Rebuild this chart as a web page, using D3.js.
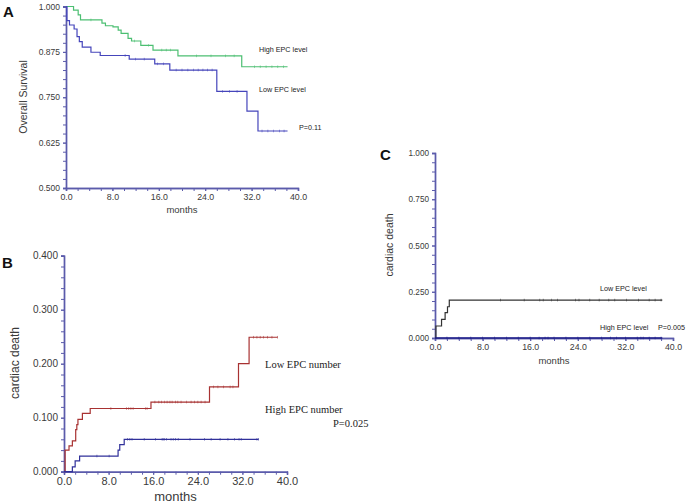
<!DOCTYPE html>
<html><head><meta charset="utf-8">
<script src="https://cdn.jsdelivr.net/npm/d3@7"></script>
<style>body{margin:0;background:#fff}svg{display:block}</style>
</head><body>
<script>
// ---------- DATA ----------
const monthTicks = [0, 8, 16, 24, 32, 40];
const survTicks = [0.5, 0.625, 0.75, 0.875, 1.0];
const bTicks = [0, 0.1, 0.2, 0.3, 0.4];
const cTicks = [0, 0.25, 0.5, 0.75, 1.0];

// Panel A: overall survival
const aHighTimes = [0, 1.3, 2.1, 2.5, 6.2, 6.8, 8.1, 9.0, 9.5, 10.7, 11.3, 12.9, 15.0, 19.3, 30.3, 38.2];
const aHighVals  = [1.0, 0.990, 0.977, 0.963, 0.954, 0.947, 0.944, 0.935, 0.926, 0.912, 0.905, 0.893, 0.880, 0.864, 0.834, 0.834];
const aHighCens  = [4.3, 11.8, 14.2, 16.5, 17.3, 18.0, 22.5, 25.0, 27.5, 29.0, 32.5, 33.5, 34.5, 35.5, 36.5, 37.5];
const aLowTimes  = [0, 0.15, 0.6, 1.4, 1.9, 2.3, 2.8, 4.3, 5.9, 10.9, 15.3, 17.9, 26.0, 31.2, 33.1, 38.2];
const aLowVals   = [1.0, 0.961, 0.949, 0.938, 0.917, 0.903, 0.888, 0.874, 0.865, 0.855, 0.842, 0.825, 0.766, 0.712, 0.657, 0.657];
const aLowCens   = [10.2, 12.0, 13.5, 15.8, 16.8, 19.0, 20.0, 21.0, 22.0, 22.8, 23.6, 24.4, 25.2, 27.0, 28.2, 29.5, 33.8, 34.8, 35.8, 36.8, 37.6];

// Panel B: cardiac death (EPC number)
const bLowTimes  = [0, 0.2, 0.9, 1.5, 2.1, 2.3, 2.5, 3.3, 4.7, 15.6, 26.1, 31.3, 33.2, 38.3];
const bLowVals   = [0, 0.040, 0.048, 0.057, 0.078, 0.087, 0.097, 0.108, 0.117, 0.129, 0.157, 0.200, 0.249, 0.249];
const bLowCens   = [8.4, 11.2, 11.6, 12.0, 12.4, 14.6, 14.9, 16.3, 17.0, 17.5, 18.0, 18.5, 19.0, 19.4, 20.0, 20.4, 21.0, 22.0, 22.8, 23.4, 24.0, 24.6, 25.3, 26.8, 27.6, 28.6, 29.8, 30.3, 34.0, 34.6, 35.2, 35.8, 36.5, 37.3, 38.3];
const bHighTimes = [0, 1.5, 2.0, 2.8, 9.7, 10.0, 10.8, 34.9];
const bHighVals  = [0, 0.009, 0.020, 0.029, 0.040, 0.050, 0.060, 0.060];
const bHighCens  = [5.9, 8.1, 11.4, 11.8, 12.2, 14.4, 16.4, 17.6, 17.8, 18.0, 18.4, 19.2, 19.6, 20.0, 20.5, 22.6, 25.2, 26.4, 28.0, 29.4, 30.6, 31.4, 31.8, 34.6, 34.9];

// Panel C: cardiac death (EPC level)
const cLowTimes  = [0, 0.15, 1.1, 1.7, 2.1, 2.4, 38.2];
const cLowVals   = [0, 0.065, 0.101, 0.137, 0.169, 0.205, 0.205];
const cLowCens   = [11.0, 15.0, 17.6, 18.2, 19.6, 20.6, 23.6, 24.2, 26.0, 27.6, 29.2, 30.2, 32.2, 34.2, 36.0, 37.0, 38.0];
const cHighTimes = [0, 38.2];
const cHighVals  = [0, 0];
const cHighCens  = [2.0, 4.0, 6.0, 8.0, 10.0, 12.0, 14.0, 16.0, 17.5, 18.5, 19.0, 20.0, 22.0, 24.0, 26.0, 28.0, 29.5, 30.5, 32.0, 34.0, 34.6, 35.0, 36.0, 37.0, 38.0];

// ---------- DRAW ----------
const svg = d3.select("body").append("svg").attr("width", 687).attr("height", 504);
svg.append("rect").attr("width", 687).attr("height", 504).attr("fill", "#fff");
const axisColor = "#5b5bab";
const textColor = "#3a3a3a";

function panel(o) {
  const x = d3.scaleLinear().domain([0, 40]).range(o.xr);
  const y = d3.scaleLinear().domain(o.yd).range(o.yr);
  const g = svg.append("g");
  const yMinor = d3.range(o.yd[0], o.yd[1] + 1e-9, o.yMinorStep);
  const ay = g.append("g").attr("transform", `translate(${o.xr[0]},0)`)
    .call(d3.axisLeft(y).tickValues(yMinor).tickSize(3).tickFormat(""));
  const ay2 = g.append("g").attr("transform", `translate(${o.xr[0]},0)`)
    .call(d3.axisLeft(y).tickValues(o.yTicks).tickSize(3).tickPadding(3).tickFormat(d3.format(".3f")));
  const ax = g.append("g").attr("transform", `translate(0,${o.yr[0]})`)
    .call(d3.axisBottom(x).tickValues(d3.range(0, 40.1, 2)).tickSize(3).tickFormat(""));
  const ax2 = g.append("g").attr("transform", `translate(0,${o.yr[0]})`)
    .call(d3.axisBottom(x).tickValues(monthTicks).tickSize(3).tickPadding(3).tickFormat(d3.format(".1f")));
  [ay, ay2, ax, ax2].forEach(a => {
    a.selectAll("path").attr("stroke", axisColor).attr("stroke-width", 1.4);
    a.selectAll("line").attr("stroke", axisColor).attr("stroke-width", 1);
  });
  ay2.selectAll("text").attr("font-family", "Liberation Sans, Arial").attr("font-size", o.yFont).attr("fill", textColor);
  ax2.selectAll("text").attr("font-family", "Liberation Sans, Arial").attr("font-size", o.xFont).attr("fill", textColor);
  g.append("text").attr("x", (o.xr[0] + o.xr[1]) / 2).attr("y", o.monthsY)
    .attr("text-anchor", "middle").attr("font-family", "Liberation Sans, Arial")
    .attr("font-size", o.monthsFont).attr("fill", textColor).text("months");
  g.append("text").attr("transform", `translate(${o.yTitleX},${o.yTitleY}) rotate(-90)`)
    .attr("text-anchor", "middle").attr("font-family", "Liberation Sans, Arial")
    .attr("font-size", o.yTitleFont).attr("fill", textColor).text(o.yTitle);
  g.append("text").attr("x", o.letter[0]).attr("y", o.letter[1])
    .attr("font-family", "Liberation Sans, Arial").attr("font-weight", "bold")
    .attr("font-size", 15).attr("fill", "#111").text(o.letter[2]);
  const line = d3.line().x(d => x(d[0])).y(d => y(d[1])).curve(d3.curveStepAfter);
  o.series.forEach(s => {
    const pts = s.t.map((t, i) => [t, s.v[i]]);
    g.append("path").attr("d", line(pts)).attr("fill", "none")
      .attr("stroke", s.color).attr("stroke-width", s.w || 1.2);
    const valAt = t => { let v = s.v[0]; s.t.forEach((tt, i) => { if (tt <= t) v = s.v[i]; }); return v; };
    g.selectAll(null).data(s.c).enter().append("line")
      .attr("x1", d => x(d)).attr("x2", d => x(d))
      .attr("y1", d => y(valAt(d)) - 1.3).attr("y2", d => y(valAt(d)) + 1.3)
      .attr("stroke", s.color).attr("stroke-width", 0.7).attr("opacity", 0.8);
  });
  o.labels.forEach(l => {
    g.append("text").attr("x", l[0]).attr("y", l[1]).attr("font-family", l[3])
      .attr("font-size", l[4]).attr("fill", "#222").text(l[2]);
  });
}

panel({
  xr: [66, 298], yd: [0.5, 1.0], yr: [188, 6.5], yMinorStep: 0.025, yTicks: survTicks,
  yFont: 8.5, xFont: 8.8, monthsY: 213, monthsFont: 9.5,
  yTitle: "Overall Survival", yTitleX: 27, yTitleY: 97, yTitleFont: 10.5,
  letter: [3, 17, "A"],
  series: [
    {t: aHighTimes, v: aHighVals, c: aHighCens, color: "#4cbf72"},
    {t: aLowTimes, v: aLowVals, c: aLowCens, color: "#4545bb"}
  ],
  labels: [
    [259, 52, "High EPC level", "Liberation Sans, Arial", 7.2],
    [259, 92, "Low EPC level", "Liberation Sans, Arial", 7.2],
    [299, 130, "P=0.11", "Liberation Sans, Arial", 7.2]
  ]
});

panel({
  xr: [64, 287], yd: [0, 0.4], yr: [471.7, 255.7], yMinorStep: 0.02, yTicks: bTicks,
  yFont: 10, xFont: 11, monthsY: 501, monthsFont: 13,
  yTitle: "cardiac death", yTitleX: 19, yTitleY: 363, yTitleFont: 12,
  letter: [2, 268, "B"],
  series: [
    {t: bLowTimes, v: bLowVals, c: bLowCens, color: "#a83232"},
    {t: bHighTimes, v: bHighVals, c: bHighCens, color: "#30309a"}
  ],
  labels: [
    [265, 368, "Low EPC number", "Liberation Serif, Times New Roman", 10.5],
    [265, 413, "High EPC number", "Liberation Serif, Times New Roman", 10.5],
    [333, 427, "P=0.025", "Liberation Serif, Times New Roman", 10.5]
  ]
});

panel({
  xr: [435, 673], yd: [0, 1.0], yr: [338, 153], yMinorStep: 0.05, yTicks: cTicks,
  yFont: 8.2, xFont: 8.8, monthsY: 364, monthsFont: 9.5,
  yTitle: "cardiac death", yTitleX: 393, yTitleY: 245, yTitleFont: 10.5,
  letter: [380, 160, "C"],
  series: [
    {t: cLowTimes, v: cLowVals, c: cLowCens, color: "#333333"},
    {t: cHighTimes, v: cHighVals, c: cHighCens, color: "#1f1f8a", w: 1.6}
  ],
  labels: [
    [600, 291, "Low EPC level", "Liberation Sans, Arial", 7.2],
    [600, 330, "High EPC level", "Liberation Sans, Arial", 7.2],
    [658, 330, "P=0.005", "Liberation Sans, Arial", 7.2]
  ]
});
</script>
</body></html>
